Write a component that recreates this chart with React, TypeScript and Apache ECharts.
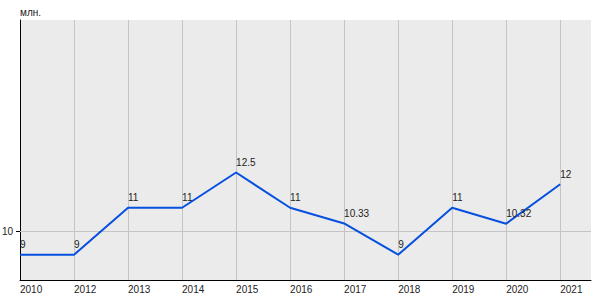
import React, { useEffect, useRef } from "react";
import * as echarts from "echarts";

const years = ["2010", "2012", "2013", "2014", "2015", "2016", "2017", "2018", "2019", "2020", "2021"];
const values = [9, 9, 11, 11, 12.5, 11, 10.33, 9, 11, 10.32, 12];
const yTickLabels = [10];
const unitName = "млн.";

const FONT = "'Liberation Sans', Arial, sans-serif";

export default function App() {
  const ref = useRef<HTMLDivElement>(null);
  useEffect(() => {
    document.body.style.margin = "0";
    const chart = echarts.init(ref.current!, null, { renderer: "svg" });
    const data = values.map((v, i) => [i, v]);
    chart.setOption({
      animation: false,
      textStyle: { fontFamily: FONT },
      grid: {
        left: 20, right: 9, top: 20, bottom: 20,
        show: true, backgroundColor: "#ebebeb", borderWidth: 0,
        outerBoundsMode: "none", containLabel: false,
      },
      xAxis: {
        type: "value",
        min: 0,
        max: 10.57,
        interval: 1,
        axisLine: { show: true, onZero: false, lineStyle: { color: "#000", width: 1 } },
        axisTick: { show: false },
        splitLine: { show: true, showMinLine: false, showMaxLine: false, lineStyle: { color: "#c4c4c4", width: 1 } },
        axisLabel: {
          show: true,
          showMaxLabel: false,
          margin: 4,
          align: "left",
          color: "#222",
          fontSize: 10,
          fontFamily: FONT,
          formatter: (v: number) => (Number.isInteger(v) && years[v] !== undefined ? years[v] : ""),
        },
      },
      yAxis: {
        type: "value",
        min: 7.92,
        max: 19,
        name: unitName,
        nameLocation: "end",
        nameGap: 3,
        nameTextStyle: { align: "left", verticalAlign: "bottom", color: "#222", fontSize: 10, fontFamily: FONT },
        axisLine: { show: true, lineStyle: { color: "#000", width: 1 } },
        axisTick: { show: true, length: 4, customValues: yTickLabels, lineStyle: { color: "#000" } },
        splitLine: { show: false },
        axisLabel: { show: true, customValues: yTickLabels, margin: 7, color: "#222", fontSize: 10, fontFamily: FONT },
      },
      series: [
        {
          type: "line",
          data,
          showSymbol: true,
          symbol: "circle",
          symbolSize: 0,
          lineStyle: { color: "#0650e0", width: 2 },
          itemStyle: { color: "#0650e0" },
          label: {
            show: true,
            position: "top",
            align: "left",
            distance: 5,
            color: "#222",
            fontSize: 10,
            fontFamily: FONT,
            formatter: (p: any) => String(p.value[1]),
          },
          markLine: {
            silent: true,
            symbol: "none",
            label: { show: false },
            lineStyle: { color: "#c4c4c4", type: "solid", width: 1 },
            data: [{ yAxis: 10 }],
            z: 1,
          },
          z: 3,
        },
      ],
    });
    return () => chart.dispose();
  }, []);
  return <div ref={ref} style={{ width: 600, height: 300 }} />;
}
